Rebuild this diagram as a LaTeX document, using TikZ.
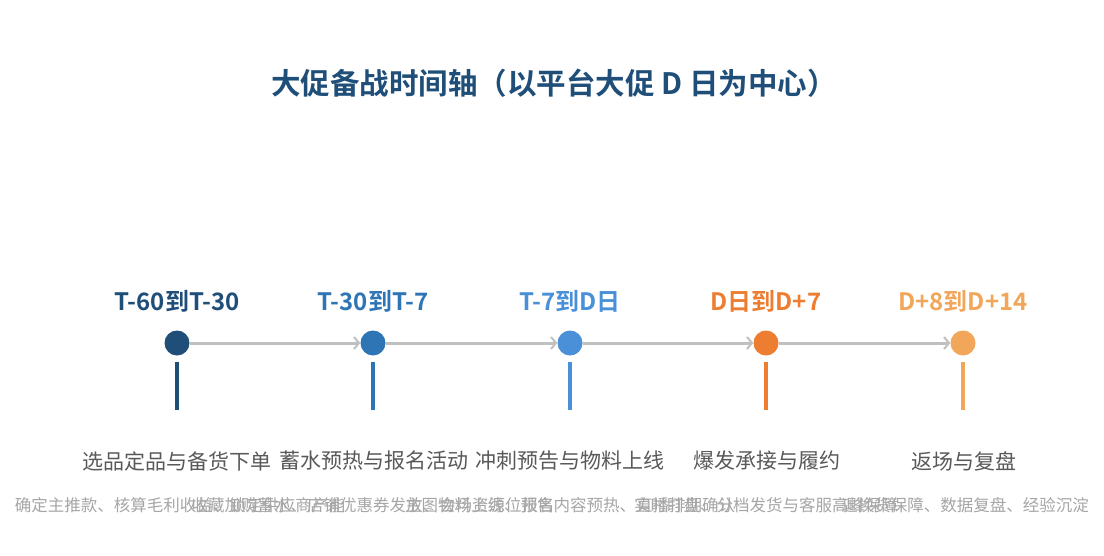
\documentclass[tikz,border=0pt]{standalone}
\usepackage{fontspec}
\setmainfont{Noto Sans CJK SC}[BoldFont={Noto Sans CJK SC Bold}]
\usetikzlibrary{arrows.meta}

\definecolor{navy}{HTML}{1F4E79}
\definecolor{midblue}{HTML}{2E75B6}
\definecolor{skyblue}{HTML}{4A90D9}
\definecolor{deeporange}{HTML}{ED7D31}
\definecolor{softorange}{HTML}{F2A65A}
\definecolor{railgray}{HTML}{C0C0C0}
\definecolor{phasegray}{HTML}{595959}
\definecolor{notegray}{HTML}{A6A6A6}

\tikzset{
  heading/.style={font=\bfseries\fontsize{29.5}{33}\selectfont, text=navy, inner sep=0pt},
  period/.style={font=\bfseries\fontsize{24}{28}\selectfont, inner sep=0pt},
  milestone/.style={circle, minimum size=25pt, inner sep=0pt},
  stem/.style={line width=4pt},
  flow/.style={draw=railgray, line width=3pt, -{Straight Barb[length=5pt,width=12pt,line width=2pt]}},
  phase/.style={font=\fontsize{21}{24}\selectfont, text=phasegray, inner sep=0pt},
  note/.style={font=\fontsize{16.5}{19}\selectfont, text=notegray, inner sep=0pt}
}

\begin{document}
\begin{tikzpicture}[x=1pt,y=-1pt]
    \useasboundingbox (0,0) rectangle (1104,555);
    \fill[white] (0,0) rectangle (1104,555);

    \node[heading] (title) at (554,83) {大促备战时间轴（以平台大促 D 日为中心）};

    % time periods
    \node[period, text=navy] (t1) at (177,301) {T-60到T-30};
    \node[period, text=midblue] (t2) at (373,301) {T-30到T-7};
    \node[period, text=skyblue] (t3) at (570,301) {T-7到D日};
    \node[period, text=deeporange] (t4) at (766,301) {D日到D+7};
    \node[period, text=softorange] (t5) at (963,301) {D+8到D+14};

    % milestones
    \node[milestone, fill=navy] (m1) at (177,343) {};
    \node[milestone, fill=midblue] (m2) at (373,343) {};
    \node[milestone, fill=skyblue] (m3) at (570,343) {};
    \node[milestone, fill=deeporange] (m4) at (766,343) {};
    \node[milestone, fill=softorange] (m5) at (963,343) {};

    \draw[flow] (m1) -- (m2);
    \draw[flow] (m2) -- (m3);
    \draw[flow] (m3) -- (m4);
    \draw[flow] (m4) -- (m5);

    % stems
    \coordinate (s1) at (177,410);
    \coordinate (s2) at (373,410);
    \coordinate (s3) at (570,410);
    \coordinate (s4) at (766,410);
    \coordinate (s5) at (963,410);
    \draw[stem, navy] ([yshift=-6pt]m1.south) -- (s1);
    \draw[stem, midblue] ([yshift=-6pt]m2.south) -- (s2);
    \draw[stem, skyblue] ([yshift=-6pt]m3.south) -- (s3);
    \draw[stem, deeporange] ([yshift=-6pt]m4.south) -- (s4);
    \draw[stem, softorange] ([yshift=-6pt]m5.south) -- (s5);

    % phases
    \node[phase] (p1) at (177,461) {选品定品与备货下单};
    \node[phase] (p2) at (374,461) {蓄水预热与报名活动};
    \node[phase] (p3) at (570,461) {冲刺预告与物料上线};
    \node[phase] (p4) at (767,461) {爆发承接与履约};
    \node[phase] (p5) at (964,461) {返场与复盘};

    % details
    \node[note] (d1) at (180,505) {确定主推款、核算毛利收益、锁定供应商产能};
    \node[note] (d2) at (373,505) {收藏加购蓄水、店铺优惠券发放、会场资源位报名};
    \node[note] (d3) at (570,505) {主图物料上线、预售内容预热、直播排期确认};
    \node[note] (d4) at (766,505) {实时盯盘、分档发货与客服高峰保障};
    \node[note] (d5) at (965,505) {退换货保障、数据复盘、经验沉淀};
\end{tikzpicture}
\end{document}
